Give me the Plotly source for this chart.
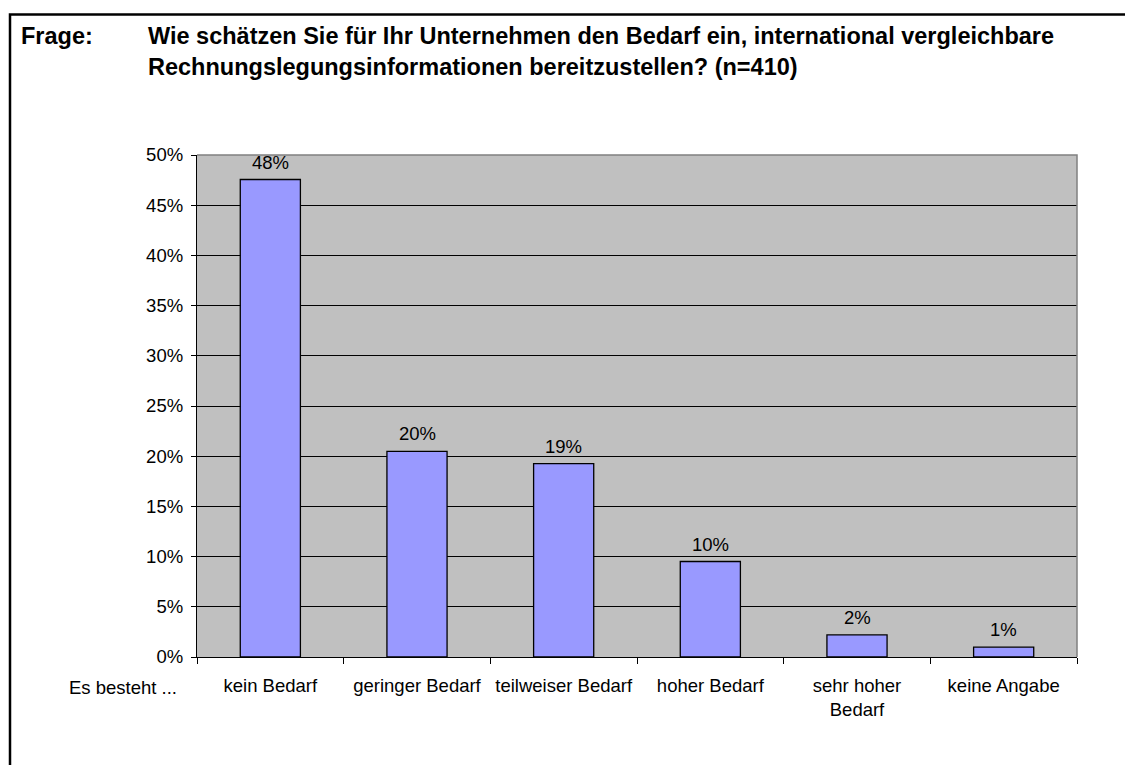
import plotly.graph_objects as go

categories = ["kein Bedarf", "geringer Bedarf", "teilweiser Bedarf", "hoher Bedarf",
              "sehr hoher<br>Bedarf", "keine Angabe"]
shares = [0.4756, 0.2049, 0.1927, 0.0951, 0.0220, 0.0098]
y_ticks = [0, 0.05, 0.10, 0.15, 0.20, 0.25, 0.30, 0.35, 0.40, 0.45, 0.50]

title_label = "Frage:"
title_lines = ["Wie schätzen Sie für Ihr Unternehmen den Bedarf ein, international vergleichbare",
               "Rechnungslegungsinformationen bereitzustellen? (n=410)"]
axis_caption = "Es besteht ..."

# page body has an 8px margin; figure sized to fit the 1133x765 window
OFF = 8
W, H = 1133 - OFF, 765 - OFF
# plot area in window pixels: x 197..1077, y 155..657
L, T = 197 - OFF, 155 - OFF
R = W - (1077 - OFF)
B = H - (657 - OFF)
PW, PH = W - L - R, H - T - B
FONT = "Liberation Sans, Arial, sans-serif"
FS = 18.5

def px(x):  # window pixel -> paper
    return (x - OFF - L) / PW

def py(y):
    return (H - B - (y - OFF)) / PH

fig = go.Figure()
fig.add_trace(go.Bar(
    x=categories, y=shares,
    marker=dict(color="#9999FF", line=dict(color="black", width=1.3)),
    hoverinfo="skip",
))

annotations = []
for c, v in zip(categories, shares):
    annotations.append(dict(x=c, y=v, xref="x", yref="y", text=f"{round(v*100):d}%",
                            showarrow=False, yanchor="bottom", yshift=5,
                            font=dict(size=FS, color="black", family=FONT)))

TF = 23.5
annotations.append(dict(x=px(19), y=py(36), xref="paper", yref="paper", text=f"<b>{title_label}</b>",
                        showarrow=False, xanchor="left", yanchor="middle",
                        font=dict(size=TF, color="black", family=FONT)))
annotations.append(dict(x=px(146), y=py(36), xref="paper", yref="paper", text=f"<b>{title_lines[0]}</b>",
                        showarrow=False, xanchor="left", yanchor="middle",
                        font=dict(size=TF, color="black", family=FONT)))
annotations.append(dict(x=px(146), y=py(67), xref="paper", yref="paper", text=f"<b>{title_lines[1]}</b>",
                        showarrow=False, xanchor="left", yanchor="middle",
                        font=dict(size=TF, color="black", family=FONT)))
annotations.append(dict(x=px(123), y=py(687), xref="paper", yref="paper", text=axis_caption,
                        showarrow=False, xanchor="center", yanchor="middle",
                        font=dict(size=FS, color="black", family=FONT)))

shapes = [
    dict(type="path", xref="paper", yref="paper", layer="above",
         path="M 0,1 L 1,1 L 1,0", line=dict(color="#808080", width=1.5)),
    dict(type="path", xref="paper", yref="paper", layer="above",
         path=f"M {px(10)},{py(790)} L {px(10)},{py(14.5)} L {px(1160)},{py(14.5)}",
         line=dict(color="black", width=2.5)),
]

fig.update_layout(
    width=W, height=H,
    margin=dict(l=L, r=R, t=T, b=B, pad=0),
    paper_bgcolor="white", plot_bgcolor="#C0C0C0",
    bargap=0.59,
    showlegend=False,
    font=dict(family=FONT, size=FS, color="black"),
    annotations=annotations,
    shapes=shapes,
)
fig.update_xaxes(
    type="category", showline=True, linecolor="black", linewidth=1.3,
    ticks="outside", tickson="boundaries", ticklen=6, tickcolor="black", tickwidth=1,
    showgrid=False, tickfont=dict(size=FS, family=FONT), ticklabelstandoff=12,
)
fig.update_yaxes(
    range=[0, 0.5], tickvals=y_ticks, tickformat=".0%",
    showline=True, linecolor="black", linewidth=1.3,
    ticks="outside", ticklen=5, tickcolor="black", tickwidth=1,
    showgrid=True, gridcolor="black", gridwidth=1, zeroline=False,
    tickfont=dict(size=FS, family=FONT), ticklabelstandoff=4,
)

fig.write_html("out.html")
